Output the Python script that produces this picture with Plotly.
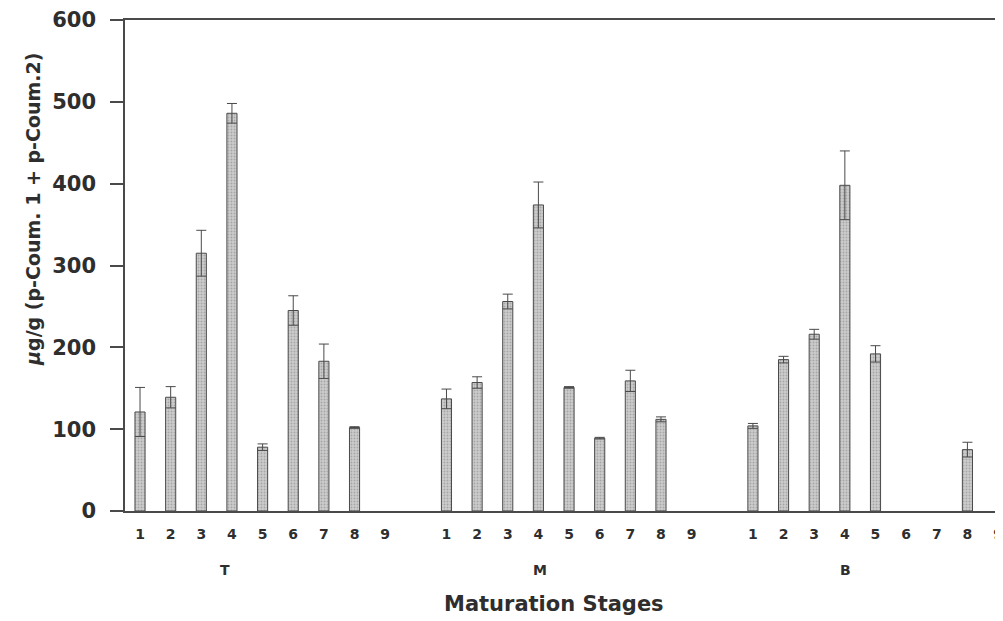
import plotly.graph_objects as go

stages = ["1", "2", "3", "4", "5", "6", "7", "8", "9"]
groups = ["T", "M", "B"]
values_T = [121, 139, 315, 486, 78, 245, 183, 102, None]
errors_T = [30, 13, 28, 12, 4, 18, 21, 1, None]
values_M = [137, 157, 256, 374, 151, 89, 159, 112, None]
errors_M = [12, 7, 9, 28, 1, 1, 13, 3, None]
values_B = [104, 185, 216, 398, 192, None, None, 75, None]
errors_B = [3, 4, 6, 42, 10, None, None, 9, None]
y_ticks = [0, 100, 200, 300, 400, 500, 600]

group_values = [values_T, values_M, values_B]
group_errors = [errors_T, errors_M, errors_B]

FONT = "DejaVu Sans, Verdana, sans-serif"
TXT = "#2e2e2e"
# figure sits at an 8px page offset inside the 1003x621 window
FIG_W, FIG_H = 995, 613
L, T = 117, 11
PLOT_H = 492
B = FIG_H - T - PLOT_H
PLOT_W = FIG_W - L
SLOT_PX = 30.75

def px_x(wx):  # window px -> paper x
    return (wx - 125) / PLOT_W

def px_y(wy):  # window px -> paper y
    return (511 - wy) / PLOT_H

fig = go.Figure()
xs, ys, es = [], [], []
tickvals, ticktext = [], []
for gi, (vals, errs) in enumerate(zip(group_values, group_errors)):
    for si, st in enumerate(stages):
        pos = gi * 10 + si
        tickvals.append(pos)
        ticktext.append("<b>%s</b>" % st)
        xs.append(pos)
        ys.append(vals[si])
        es.append(errs[si])

fig.add_trace(go.Bar(
    x=xs, y=ys, width=0.33,
    marker=dict(color="#c0c0c0", line=dict(color="#4a4a4a", width=1),
                pattern=dict(shape=".", size=3, solidity=0.3, fgcolor="#808080", bgcolor="#cccccc")),
    error_y=dict(type="data", array=es, symmetric=True, color="#4a4a4a", thickness=1, width=5),
    showlegend=False,
))

group_label_px = [218, 541, 855]
for g, gx in zip(groups, group_label_px):
    fig.add_annotation(x=px_x(gx), y=px_y(570), xref="paper", yref="paper", text="<b>%s</b>" % g,
                       showarrow=False, font=dict(family=FONT, size=14, color=TXT), yanchor="middle")

fig.add_annotation(x=px_x(555), y=px_y(604), xref="paper", yref="paper",
                   text="<b>Maturation Stages</b>", showarrow=False,
                   font=dict(family=FONT, size=21, color=TXT), yanchor="middle")

fig.add_annotation(x=px_x(32), y=px_y(209), xref="paper", yref="paper",
                   text="<b><i>μ</i>g/g (p-Coum. 1 + p-Coum.2)</b>", showarrow=False, textangle=-90,
                   font=dict(family=FONT, size=19, color=TXT), xanchor="center", yanchor="middle")

fig.update_layout(
    width=FIG_W, height=FIG_H,
    margin=dict(l=L, r=0, t=T, b=B),
    paper_bgcolor="white", plot_bgcolor="white",
    xaxis=dict(range=[-0.49, -0.49 + PLOT_W / SLOT_PX], tickvals=tickvals, ticktext=ticktext,
               showline=True, linecolor="#4a4a4a", linewidth=1.5, mirror=True,
               showgrid=False, zeroline=False, ticks="", ticklabelstandoff=9,
               ticklabeloverflow="allow",
               tickfont=dict(family=FONT, size=14, color=TXT)),
    yaxis=dict(range=[0, 600], tickvals=y_ticks, ticktext=["<b>%d</b>" % v for v in y_ticks],
               showline=True, linecolor="#4a4a4a", linewidth=1.5,
               showgrid=False, zeroline=False, ticks="outside", ticklen=13,
               tickcolor="#4a4a4a", tickwidth=1.5, ticklabelstandoff=10,
               ticklabeloverflow="allow",
               tickfont=dict(family=FONT, size=21, color=TXT)),
)

fig.write_html("out.html")
